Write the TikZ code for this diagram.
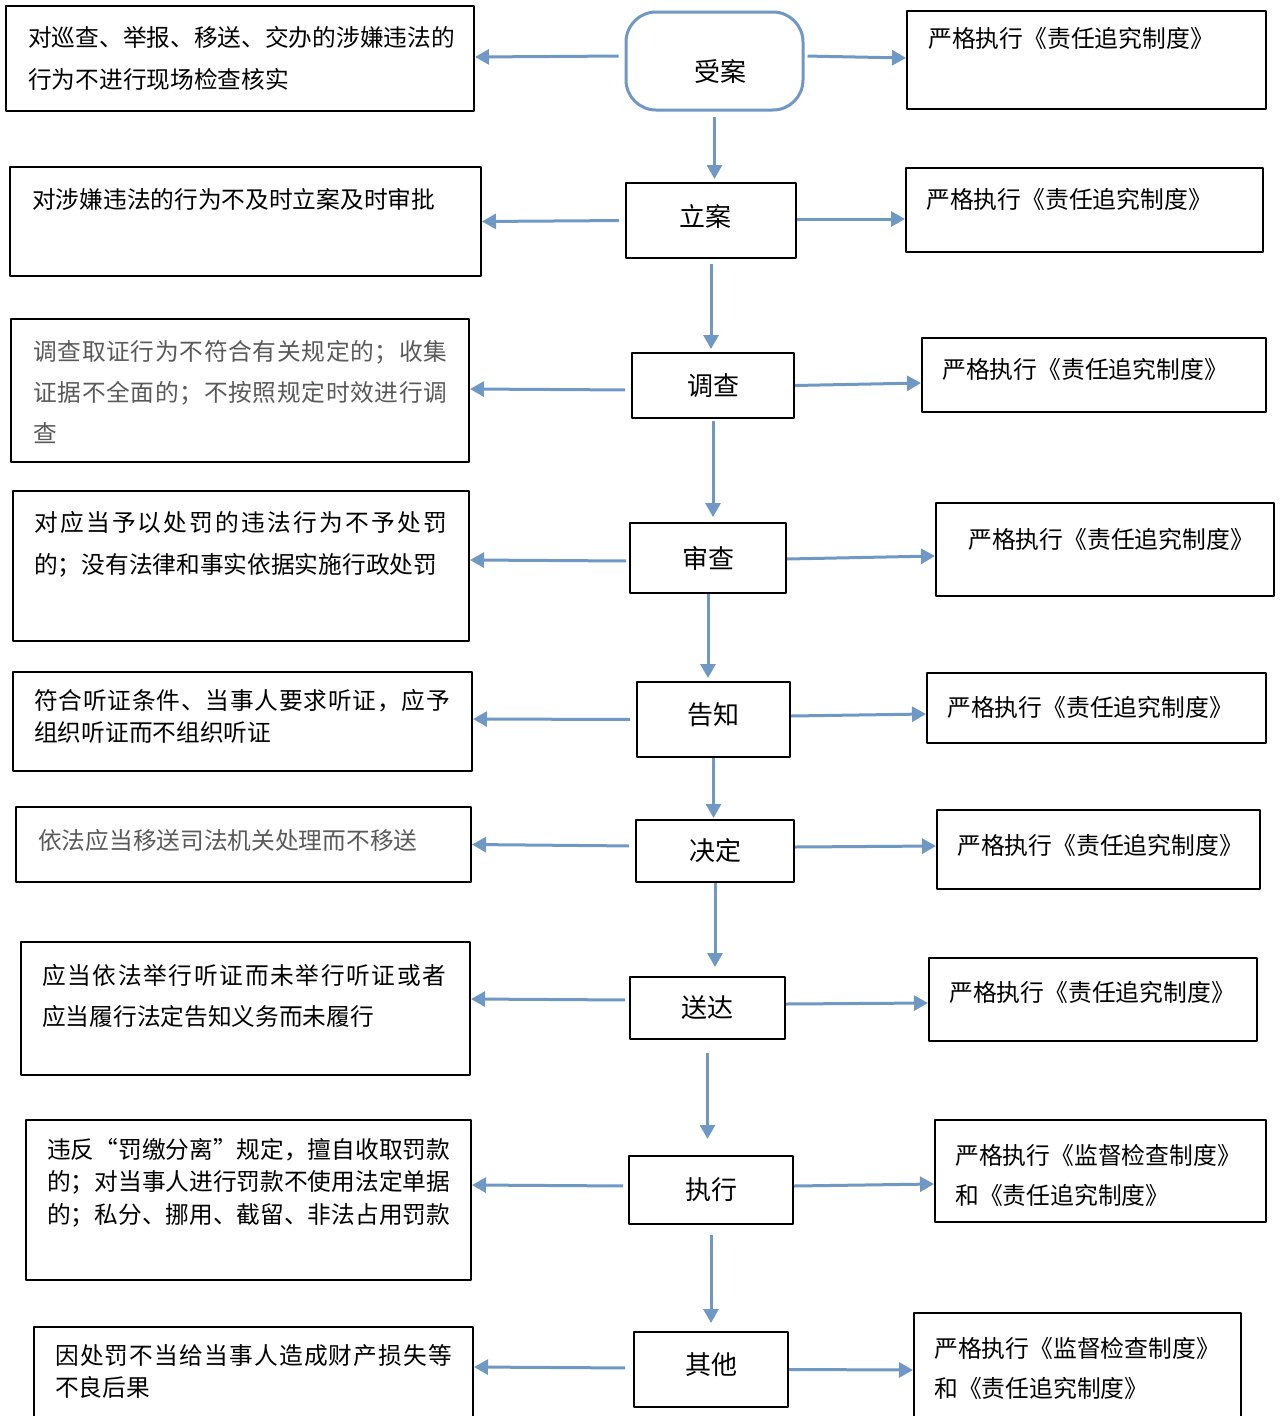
\documentclass[tikz,border=0pt]{standalone}
\usepackage{fontspec}
\setmainfont{Noto Sans CJK SC}
\usetikzlibrary{arrows.meta}
\definecolor{flowblue}{HTML}{6F98C5}
\definecolor{softgray}{HTML}{595959}
\newcommand{\trackline}[2]{{\addfontfeature{LetterSpace=#1}#2}}
\begin{document}
\begin{tikzpicture}[x=1pt,y=-1pt,line join=round,
    wrongbox/.style={draw,line width=2pt,inner sep=0pt},
    rulebox/.style={draw,line width=2pt,inner sep=0pt},
    stagebox/.style={draw,line width=2pt,inner sep=0pt,font=\fontsize{26}{30}\selectfont},
    startbox/.style={draw=flowblue,line width=3pt,rounded corners=30pt,inner sep=0pt,font=\fontsize{26}{30}\selectfont},
    wrong/.style={anchor=base west,inner sep=0pt,text width=440pt,align=left,font=\fontsize{23.7}{42}\selectfont},
    wrongtight/.style={wrong,font=\fontsize{23.7}{32.5}\selectfont},
    ruletxt/.style={anchor=base west,inner sep=0pt,text width=330pt,align=left,font=\fontsize{23.8}{40}\selectfont},
    link/.style={draw=flowblue,line width=3pt,-{Triangle[length=14pt,width=15pt]}}]
\useasboundingbox (0,0) rectangle (1281,1416);
% 中间流程
\node[startbox,minimum width=177,minimum height=98] (c1) at (714.5,61) {\raisebox{-11pt}[\height][\depth]{\hspace{11pt}受案}};
\node[stagebox,minimum width=170,minimum height=75] (c2) at (711,220.5) {\raisebox{4pt}[\height][\depth]{立案\hspace{12pt}}};
\node[stagebox,minimum width=162,minimum height=65] (c3) at (713,385.5) {调查\hspace{8pt}};
\node[stagebox,minimum width=156,minimum height=70] (c4) at (708,558) {审查};
\node[stagebox,minimum width=153,minimum height=75] (c5) at (713.5,719.5) {\raisebox{5pt}[\height][\depth]{告知}};
\node[stagebox,minimum width=158,minimum height=62] (c6) at (715,851) {决定};
\node[stagebox,minimum width=155,minimum height=62] (c7) at (707.5,1008) {送达};
\node[stagebox,minimum width=164,minimum height=68] (c8) at (711,1190) {执行};
\node[stagebox,minimum width=154,minimum height=75] (c9) at (711,1369.5) {\raisebox{5pt}[\height][\depth]{其他}};
% 左列
\node[wrongbox,minimum width=468,minimum height=105] (l1) at (240,58.5) {};
\node[wrongbox,minimum width=471,minimum height=109] (l2) at (245.5,221.5) {};
\node[wrongbox,minimum width=458,minimum height=143] (l3) at (240,390.5) {};
\node[wrongbox,minimum width=456,minimum height=150] (l4) at (241,566) {};
\node[wrongbox,minimum width=459,minimum height=99] (l5) at (242.5,721.5) {};
\node[wrongbox,minimum width=455,minimum height=75] (l6) at (243.5,844.5) {};
\node[wrongbox,minimum width=449,minimum height=133] (l7) at (245.5,1008.5) {};
\node[wrongbox,minimum width=445,minimum height=160] (l8) at (248.5,1200) {};
\node[wrongbox,minimum width=439,minimum height=103] (l9) at (253.5,1378.5) {};
\node[wrong] (t1) at (28,46) {对巡查、举报、移送、交办的涉嫌违法的\\行为不进行现场检查核实};
\node[wrong] (t2) at (32,208) {对涉嫌违法的行为不及时立案及时审批};
\node[wrong,font=\fontsize{23.7}{41}\selectfont,text=softgray] (t3) at (33,360) {\trackline{3}{调查取证行为不符合有关规定的；收集}\\\trackline{3}{证据不全面的；不按照规定时效进行调}\\查};
\node[wrong] (t4) at (34,531) {\trackline{9.5}{对应当予以处罚的违法行为不予处罚}\\的；没有法律和事实依据实施行政处罚};
\node[wrongtight] (t5) at (34,709) {\trackline{3.4}{符合听证条件、当事人要求听证，应予}\\组织听证而不组织听证};
\node[wrong,text=softgray] (t6) at (38,849) {依法应当移送司法机关处理而不移送};
\node[wrong,font=\fontsize{23.7}{41}\selectfont] (t7) at (42,984) {\trackline{7}{应当依法举行听证而未举行听证或者}\\应当履行法定告知义务而未履行};
\node[wrongtight] (t8) at (47,1158) {违反{\addfontfeature{CharacterWidth=Full}“}罚缴分离{\addfontfeature{CharacterWidth=Full}”}规定，擅自收取罚款\\的；对当事人进行罚款不使用法定单据\\的；私分、挪用、截留、非法占用罚款};
\node[wrongtight] (t9) at (55,1364) {\trackline{5}{因处罚不当给当事人造成财产损失等}\\不良后果};
% 右列
\node[rulebox,minimum width=359,minimum height=98] (r1) at (1086.5,60) {};
\node[rulebox,minimum width=357,minimum height=84] (r2) at (1084.5,210) {};
\node[rulebox,minimum width=344,minimum height=74] (r3) at (1094,375) {};
\node[rulebox,minimum width=338,minimum height=93] (r4) at (1105,549.5) {};
\node[rulebox,minimum width=339,minimum height=70] (r5) at (1096.5,708) {};
\node[rulebox,minimum width=323,minimum height=79] (r6) at (1098.5,849.5) {};
\node[rulebox,minimum width=328,minimum height=83] (r7) at (1093,999.5) {};
\node[rulebox,minimum width=331,minimum height=102] (r8) at (1100.5,1171) {};
\node[rulebox,minimum width=327,minimum height=117] (r9) at (1077.5,1371.5) {};
\node[ruletxt] (s1) at (928,47) {严格执行《责任追究制度》};
\node[ruletxt] (s2) at (926,208) {严格执行《责任追究制度》};
\node[ruletxt] (s3) at (942,378) {严格执行《责任追究制度》};
\node[ruletxt] (s4) at (968,548) {严格执行《责任追究制度》};
\node[ruletxt] (s5) at (947,716) {严格执行《责任追究制度》};
\node[ruletxt] (s6) at (957,854) {严格执行《责任追究制度》};
\node[ruletxt] (s7) at (949,1001) {严格执行《责任追究制度》};
\node[ruletxt] (s8) at (955,1164) {严格执行《监督检查制度》\\和《责任追究制度》};
\node[ruletxt] (s9) at (934,1357) {严格执行《监督检查制度》\\和《责任追究制度》};
% 向下
\draw[link,shorten <=5pt,shorten >=3pt] (c1.south) -- (c1.south |- c2.north);
\draw[link,shorten <=5pt,shorten >=3pt] (c2.south) -- (c2.south |- c3.north);
\draw[link,shorten <=2pt,shorten >=5pt] (c3.south) -- (c3.south |- c4.north);
\draw[link,shorten >=3pt] (c4.south) -- (c4.south |- c5.north);
\draw[link,shorten >=1pt] (c5.south) -- (c5.south |- c6.north);
\draw[link,shorten >=9pt] (c6.south) -- (c6.south |- c7.north);
\draw[link,shorten <=13pt,shorten >=16pt] (c7.south) -- (c7.south |- c8.north);
\draw[link,shorten <=10pt,shorten >=8pt] (c8.south) -- (c8.south |- c9.north);
% 向左
\draw[link,shorten <=6pt] ([yshift=5pt]c1.west) -- ([yshift=1.5pt]l1.east);
\draw[link,shorten <=6pt] (c2.west) -- (l2.east);
\draw[link,shorten <=6pt] ([yshift=-4.5pt]c3.west) -- ([yshift=1.5pt]l3.east);
\draw[link,shorten <=3pt] ([yshift=-3pt]c4.west) -- ([yshift=6pt]l4.east);
\draw[link,shorten <=6pt] (c5.west) -- ([yshift=2.5pt]l5.east);
\draw[link,shorten <=6pt] ([yshift=5pt]c6.west) -- (l6.east);
\draw[link,shorten <=4pt] ([yshift=8pt]c7.west) -- ([yshift=9.5pt]l7.east);
\draw[link,shorten <=5pt] ([yshift=4pt]c8.west) -- ([yshift=15pt]l8.east);
\draw[link,shorten <=8pt] ([yshift=1.5pt]c9.west) -- ([yshift=11.5pt]l9.east);
% 向右
\draw[link,shorten <=3pt] ([yshift=5pt]c1.east) -- ([yshift=2pt]r1.west);
\draw[link] ([yshift=1.5pt]c2.east) -- ([yshift=-9pt]r2.west);
\draw[link] (c3.east) -- ([yshift=-8pt]r3.west);
\draw[link] ([yshift=-1pt]c4.east) -- ([yshift=-6.5pt]r4.west);
\draw[link] ([yshift=3.5pt]c5.east) -- ([yshift=-6pt]r5.west);
\draw[link] ([yshift=4pt]c6.east) -- ([yshift=3.5pt]r6.west);
\draw[link] ([yshift=4pt]c7.east) -- ([yshift=-3.5pt]r7.west);
\draw[link] ([yshift=4pt]c8.east) -- ([yshift=-13pt]r8.west);
\draw[link] (c9.east) -- ([yshift=1.5pt]r9.west);
\end{tikzpicture}
\end{document}
